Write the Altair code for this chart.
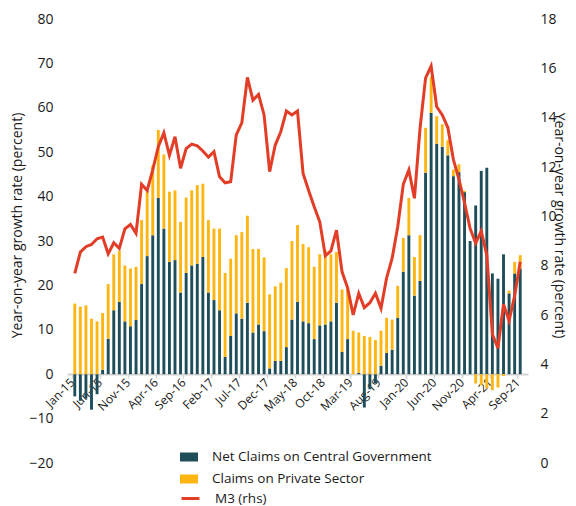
import altair as alt
import pandas as pd

years = ["15", "16", "17", "18", "19", "20", "21"]
mon = ["Jan", "Feb", "Mar", "Apr", "May", "Jun", "Jul", "Aug", "Sep", "Oct", "Nov", "Dec"]
months = [f"{m}-{y}" for y in years for m in mon][:81]

tick_labels = ["Jan-15", "Jun-15", "Nov-15", "Apr-16", "Sep-16", "Feb-17", "Jul-17",
               "Dec-17", "May-18", "Oct-18", "Mar-19", "Aug-19", "Jan-20", "Jun-20",
               "Nov-20", "Apr-21", "Sep-21"]

net_claims = [-5, -6, -5.5, -8, -4.5, 1.0, 8.0, 14.4, 16.3, 11.9, 10.8, 12.2,
              20.3, 26.6, 31.3, 39.7, 32.8, 25.3, 25.7, 18.4, 22.8, 24.5, 24.9, 26.4,
              18.4, 16.7, 14.4, 3.9, 8.6, 13.7, 12.5, 16.1, 9.4, 11.2, 9.7, 1.3,
              3.0, 3.0, 6.1, 12.3, 16.3, 11.9, 11.5, 7.9, 11.0, 11.2, 11.9, 16.1,
              5.0, 7.9, 0.0, 0.3, -7.5, -3.4, -2.0, 1.9, 4.8, 5.5, 12.7, 23.1,
              31.3, 17.7, 21.0, 45.4, 58.9, 51.9, 51.2, 49.3, 44.6, 45.5, 41.0, 30.0,
              38.0, 45.8, 46.5, 22.7, 21.5, 27.0, 18.2, 22.7, 23.8]

private_claims = [15.9, 15.2, 15.5, 12.5, 11.9, 12.8, 12.3, 12.6, 11.5, 12.6, 13.0, 12.0,
                  14.4, 14.6, 15.7, 15.3, 16.7, 15.8, 15.7, 15.9, 17.0, 16.9, 17.7, 16.5,
                  16.3, 16.1, 18.4, 18.9, 17.4, 17.6, 19.5, 19.6, 18.8, 17.0, 16.6, 16.7,
                  16.8, 17.6, 17.8, 17.7, 17.3, 17.4, 17.1, 16.3, 16.0, 16.7, 15.1, 11.4,
                  14.1, 11.3, 9.8, 9.1, 8.6, 8.4, 7.7, 7.9, 7.9, 6.8, 7.2, 7.6,
                  8.4, 8.7, 10.3, 10.1, 8.1, 6.2, 5.1, 3.4, 1.5, 1.8, 0.3, 0.0,
                  -2.1, -2.5, -3.2, -3.6, -3.0, -0.4, 0.6, 2.6, 3.0]

m3 = [7.69, 8.55, 8.77, 8.86, 9.09, 9.16, 8.48, 8.93, 8.70, 9.49, 9.67, 9.31,
      11.3, 11.05, 11.88, 12.82, 13.38, 12.47, 13.23, 11.95, 12.75, 12.93, 12.86, 12.65,
      12.4, 12.62, 11.6, 11.36, 11.4, 13.3, 13.79, 15.63, 14.71, 14.94, 14.11, 11.81,
      12.89, 13.43, 14.27, 14.11, 14.27, 11.74, 11.05, 10.39, 9.78, 8.4, 8.6, 9.44,
      7.75, 7.1, 6.0, 6.88, 6.3, 6.5, 6.88, 6.27, 7.5, 8.3, 9.58, 11.3,
      11.88, 10.73, 13.55, 15.6, 16.09, 14.44, 14.11, 13.6, 12.3, 11.5, 10.55, 9.51,
      8.91, 9.4, 8.43, 5.22, 4.65, 6.44, 5.77, 6.78, 8.16]

series_names = ["Net Claims on Central Government", "Claims on Private Sector"]
line_name = "M3 (rhs)"
left_ticks = [-20, -10, 0, 10, 20, 30, 40, 50, 60, 70, 80]
right_ticks = [0, 2, 4, 6, 8, 10, 12, 14, 16, 18]

TEAL = "#1f4e5b"
YELLOW = "#ffb612"
RED = "#e23e27"
FONT = "Open Sans"
TXT = "#1a1a1a"

# month positions (index) and tick positions on month boundaries
tick_pos = [months.index(t) - 0.5 for t in tick_labels]
label_expr = "[" + ",".join(f"'{t}'" for t in tick_labels) + "][round((datum.value + 0.5) / 5)]"

rows = []
for i, m in enumerate(months):
    rows.append({"idx": i, "month": m, "series": series_names[0], "value": net_claims[i], "ord": 0})
    rows.append({"idx": i, "month": m, "series": series_names[1], "value": private_claims[i], "ord": 1})
bars_df = pd.DataFrame(rows)
line_df = pd.DataFrame({"idx": list(range(len(months))), "month": months, "m3": m3,
                        "series": [line_name] * len(months)})

xenc = alt.X(
    "idx:Q",
    scale=alt.Scale(domain=[-0.5, len(months) - 0.5], nice=False, zero=False),
    axis=alt.Axis(values=tick_pos, labelExpr=label_expr, title=None, labelAngle=-45,
                  labelAlign="right", labelBaseline="middle", offset=-89,
                  domainColor="#d4d4d4", domainWidth=2, tickColor="#d4d4d4",
                  tickWidth=1.5, tickSize=4, labelPadding=2, labelFontSize=12,
                  labelFont=FONT, labelColor=TXT, grid=False, labelOverlap=False,
                  labelFlush=False, labelBound=False),
)

bars = alt.Chart(bars_df).mark_bar(width=2.9).encode(
    x=xenc,
    y=alt.Y("value:Q", stack="zero",
            scale=alt.Scale(domain=[-20, 80], nice=False, zero=False),
            axis=alt.Axis(values=left_ticks, title="Year-on-year growth rate (percent)",
                          domain=False, ticks=False, grid=False, labelFontSize=14,
                          labelFont=FONT, labelColor=TXT, labelPadding=14,
                          titleFont=FONT, titleFontSize=14, titleFontWeight="normal",
                          titleColor=TXT, titleX=-50, titleY=206,
                          titleBaseline="middle")),
    fill=alt.Fill("series:N",
                  scale=alt.Scale(domain=series_names, range=[TEAL, YELLOW]),
                  legend=alt.Legend(orient="none", legendX=113, legendY=429, title=None,
                                    symbolType="M-1,-0.5H1V0.5H-1Z", symbolSize=324,
                                    symbolStrokeWidth=0, labelFont=FONT, labelFontSize=13.5,
                                    labelColor=TXT, labelOffset=14, labelLimit=0,
                                    rowPadding=6)),
    order=alt.Order("ord:Q"),
)

line = alt.Chart(line_df).mark_line(strokeWidth=3).encode(
    x=xenc,
    y=alt.Y("m3:Q", scale=alt.Scale(domain=[0, 18], nice=False, zero=False),
            axis=alt.Axis(orient="right", values=right_ticks,
                          title="Year-on-year growth rate (percent)",
                          domain=False, ticks=False, grid=False, labelFontSize=14,
                          labelFont=FONT, labelColor=TXT, labelPadding=12,
                          titleFont=FONT, titleFontSize=14, titleFontWeight="normal",
                          titleColor=TXT, titleX=30, titleY=206,
                          titleBaseline="middle")),
    stroke=alt.Stroke("series:N",
                      scale=alt.Scale(domain=[line_name], range=[RED]),
                      legend=alt.Legend(orient="none", legendX=113, legendY=469, title=None,
                                        symbolType="stroke", symbolSize=324,
                                        symbolStrokeWidth=3, labelFont=FONT,
                                        labelFontSize=13.5, labelColor=TXT, labelOffset=14,
                                        labelLimit=0)),
)

chart = alt.layer(bars, line).resolve_scale(
    y="independent", fill="independent", stroke="independent"
).properties(
    width=461, height=444,
    autosize=alt.AutoSizeParams(type="none"),
    padding={"left": 59, "top": 11, "right": 40, "bottom": 43},
).configure_view(stroke=None)

chart.save("out.html", embed_options={"renderer": "svg", "actions": False})
